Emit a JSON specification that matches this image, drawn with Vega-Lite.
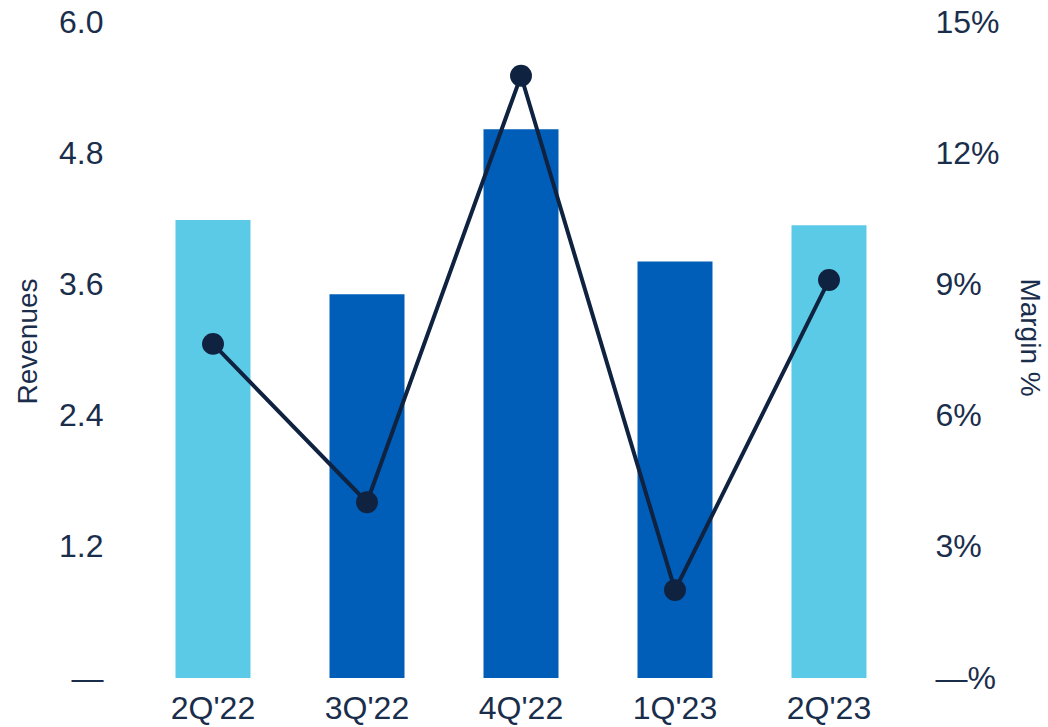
{
  "$schema": "https://vega.github.io/schema/vega-lite/v6.json",
  "width": 770,
  "height": 656,
  "autosize": {"type": "none"},
  "padding": {"left": 136, "top": 22, "right": 142, "bottom": 49},
  "config": {"view": {"stroke": null}, "font": "Liberation Sans", "background": "white"},
  "data": {
    "values": [
      {"quarter": "2Q'22", "revenues": 4.19, "margin": 7.64, "group": "2Q"},
      {"quarter": "3Q'22", "revenues": 3.51, "margin": 4.02, "group": "other"},
      {"quarter": "4Q'22", "revenues": 5.02, "margin": 13.77, "group": "other"},
      {"quarter": "1Q'23", "revenues": 3.81, "margin": 2.01, "group": "other"},
      {"quarter": "2Q'23", "revenues": 4.14, "margin": 9.10, "group": "2Q"}
    ]
  },
  "encoding": {
    "x": {
      "field": "quarter",
      "type": "nominal",
      "sort": null,
      "scale": {"paddingInner": 0.513, "paddingOuter": 0.2565},
      "axis": {
        "title": null,
        "domain": false,
        "ticks": false,
        "labelAngle": 0,
        "labelPadding": 15,
        "labelFontSize": 32,
        "labelColor": "#1A2E4C",
        "labelFont": "Liberation Sans"
      }
    }
  },
  "layer": [
    {
      "mark": {"type": "bar"},
      "encoding": {
        "y": {
          "field": "revenues",
          "type": "quantitative",
          "scale": {"domain": [0, 6], "nice": false},
          "axis": {
            "orient": "left",
            "title": "Revenues",
            "values": [0, 1.2, 2.4, 3.6, 4.8, 6.0],
            "labelExpr": "datum.value === 0 ? '—' : format(datum.value, '.1f')",
            "grid": false,
            "domain": false,
            "ticks": false,
            "labelPadding": 33,
            "labelFontSize": 32,
            "labelColor": "#1A2E4C",
            "labelFont": "Liberation Sans",
            "titleFont": "Liberation Sans",
            "titleFontSize": 28,
            "titleFontWeight": "normal",
            "titleColor": "#1A2E4C",
            "titleBaseline": "alphabetic",
            "titleAngle": -90,
            "titleX": -100,
            "titleY": 319
          }
        },
        "color": {
          "field": "group",
          "type": "nominal",
          "scale": {"domain": ["2Q", "other"], "range": ["#5BCAE7", "#005EB8"]},
          "legend": null
        }
      }
    },
    {
      "mark": {"type": "line", "color": "#0F2240", "strokeWidth": 4},
      "encoding": {
        "y": {
          "field": "margin",
          "type": "quantitative",
          "scale": {"domain": [0, 15], "nice": false},
          "axis": {
            "orient": "right",
            "title": "Margin %",
            "values": [0, 3, 6, 9, 12, 15],
            "labelExpr": "datum.value === 0 ? '—%' : format(datum.value, 'd') + '%'",
            "grid": false,
            "domain": false,
            "ticks": false,
            "labelPadding": 29,
            "labelFontSize": 32,
            "labelColor": "#1A2E4C",
            "labelFont": "Liberation Sans",
            "titleFont": "Liberation Sans",
            "titleFontSize": 28,
            "titleFontWeight": "normal",
            "titleColor": "#1A2E4C",
            "titleBaseline": "alphabetic",
            "titleAngle": 90,
            "titleX": 114,
            "titleY": 315
          }
        }
      }
    },
    {
      "mark": {"type": "point", "filled": true, "opacity": 1, "color": "#0F2240", "size": 480},
      "encoding": {
        "y": {
          "field": "margin",
          "type": "quantitative",
          "scale": {"domain": [0, 15], "nice": false},
          "axis": null
        }
      }
    }
  ],
  "resolve": {"scale": {"y": "independent"}}
}
